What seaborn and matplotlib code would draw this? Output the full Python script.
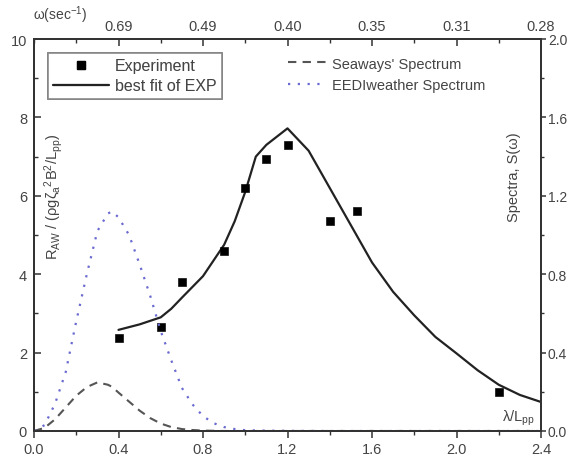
import numpy as np
import pandas as pd
import matplotlib
matplotlib.use("Agg")
import matplotlib.pyplot as plt
from matplotlib.ticker import MultipleLocator
from matplotlib.lines import Line2D
import seaborn as sns

# ---- data ----
exp_x = [0.4, 0.6, 0.7, 0.9, 1.0, 1.1, 1.2, 1.4, 1.53, 2.2]
exp_y = [2.38, 2.65, 3.8, 4.6, 6.2, 6.95, 7.3, 5.35, 5.6, 1.0]

fit_x = [0.4, 0.5, 0.6, 0.65, 0.7, 0.8, 0.9, 0.95, 1.0, 1.05, 1.1, 1.2, 1.3, 1.4, 1.5, 1.6, 1.7, 1.8, 1.9, 2.0, 2.1, 2.2, 2.3, 2.4]
fit_y = [2.58, 2.72, 2.9, 3.12, 3.4, 3.95, 4.75, 5.35, 6.1, 7.0, 7.3, 7.72, 7.15, 6.2, 5.25, 4.3, 3.55, 2.95, 2.4, 1.98, 1.55, 1.18, 0.92, 0.74]

spec_x = [0.0, 0.05, 0.1, 0.15, 0.2, 0.25, 0.3, 0.35, 0.37, 0.4, 0.45, 0.5, 0.55, 0.6, 0.65, 0.7, 0.75, 0.8, 0.85, 0.9, 0.95, 1.0,
          1.1, 1.2, 1.4, 1.6, 1.8, 2.0, 2.2, 2.4]
seaways_s = [0.0, 0.016, 0.06, 0.12, 0.18, 0.224, 0.248, 0.236, 0.225, 0.196, 0.15, 0.104, 0.066, 0.038, 0.02, 0.01, 0.005, 0.002, 0.001, 0.0, 0.0, 0.0,
             0.0, 0.0, 0.0, 0.0, 0.0, 0.0, 0.0, 0.0]
eedi_s = [0.0, 0.03, 0.14, 0.30, 0.56, 0.80, 1.02, 1.11, 1.12, 1.09, 1.00, 0.85, 0.69, 0.51, 0.36, 0.22, 0.136, 0.076, 0.04, 0.02, 0.01, 0.004,
          0.002, 0.001, 0.0, 0.0, 0.0, 0.0, 0.0, 0.0]

bottom_ticks = [0.0, 0.4, 0.8, 1.2, 1.6, 2.0, 2.4]
bottom_labels = ["0.0", "0.4", "0.8", "1.2", "1.6", "2.0", "2.4"]
top_ticks = [0.4, 0.8, 1.2, 1.6, 2.0, 2.4]
top_labels = ["0.69", "0.49", "0.40", "0.35", "0.31", "0.28"]
left_ticks = [0, 2, 4, 6, 8, 10]
right_ticks = [0.0, 0.4, 0.8, 1.2, 1.6, 2.0]
right_labels = ["0.0", "0.4", "0.8", "1.2", "1.6", "2.0"]

# ---- style ----
sns.set_theme(style="ticks")
plt.rcParams['font.family'] = ['Liberation Sans', 'DejaVu Sans']
plt.rcParams['mathtext.fontset'] = 'custom'
plt.rcParams['mathtext.rm'] = 'Liberation Sans'
plt.rcParams['mathtext.it'] = 'Liberation Sans'
plt.rcParams['mathtext.bf'] = 'Liberation Sans:bold'

FC = "#333333"
TC = "#444444"

fig = plt.figure(figsize=(5.68, 4.6), dpi=100)
ax = fig.add_axes([34/568, 1-432/460, (541-34)/568, (432-40)/460])
ax2 = ax.twinx()
ax3 = ax.twiny()

df_exp = pd.DataFrame({"x": exp_x, "y": exp_y})
df_fit = pd.DataFrame({"x": fit_x, "y": fit_y})
df_spec = pd.DataFrame({"x": spec_x, "sea": seaways_s, "eedi": eedi_s})

sns.lineplot(data=df_fit, x="x", y="y", ax=ax, color="#222222", lw=1.6, sort=False)
sns.scatterplot(data=df_exp, x="x", y="y", ax=ax, marker="s", s=30, color="black", edgecolor="black", zorder=5)
sns.lineplot(data=df_spec, x="x", y="sea", ax=ax2, color="#555555", lw=1.5, linestyle=(0, (4, 3)), sort=False)
sns.lineplot(data=df_spec, x="x", y="eedi", ax=ax2, color="#6a6ad0", lw=1.6, linestyle=(0, (1, 3.4)), sort=False)

ax.set_xlim(0, 2.4)
ax.set_ylim(0, 10)
ax2.set_ylim(0, 2.0)
ax3.set_xlim(0, 2.4)

for a in (ax, ax2, ax3):
    for sp in a.spines.values():
        sp.set_color(FC)
        sp.set_linewidth(1.3)

ax.set_xticks(bottom_ticks)
ax.set_xticklabels(bottom_labels)
ax.xaxis.set_minor_locator(MultipleLocator(0.2))
ax.set_yticks(left_ticks)
ax.yaxis.set_minor_locator(MultipleLocator(1))
ax.tick_params(axis="x", which="major", direction="out", length=5, width=1.1, color=FC, labelsize=10.5, labelcolor=TC, pad=3)
ax.tick_params(axis="x", which="minor", direction="out", length=3, width=1.0, color=FC)
ax.tick_params(axis="y", which="major", direction="in", length=5, width=1.1, color=FC, labelsize=10.5, labelcolor=TC, pad=5)
ax.tick_params(axis="y", which="minor", direction="in", length=3, width=1.0, color=FC)

ax2.set_yticks(right_ticks)
ax2.set_yticklabels(right_labels)
ax2.yaxis.set_minor_locator(MultipleLocator(0.2))
ax2.tick_params(axis="y", which="major", direction="out", length=3.5, width=1.1, color=FC, labelsize=10, labelcolor=TC, pad=1.5)
ax2.tick_params(axis="y", which="minor", direction="out", length=2.5, width=1.0, color=FC)

ax3.set_xticks(top_ticks)
ax3.set_xticklabels(top_labels)
ax3.xaxis.set_minor_locator(MultipleLocator(0.2))
ax3.tick_params(axis="x", which="major", direction="in", length=5, width=1.1, color=FC, labelsize=10.5, labelcolor=TC, pad=4)
ax3.tick_params(axis="x", which="minor", direction="in", length=3, width=1.0, color=FC)

ax.set_xlabel("")
ax.set_ylabel("")
ax2.set_ylabel("")
ax3.set_xlabel("")

fig.text(33/568, 1-15/460, r"ω(sec$^{-1}$)", ha="left", va="center", fontsize=10, color=TC)
ax.text(0.038, 0.60, r"R$_{AW}$ / (ρgζ$_a$$^2$B$^2$/L$_{pp}$)", transform=ax.transAxes,
        rotation=90, ha="center", va="center", fontsize=10.5, color=TC)
ax.text(0.947, 0.65, "Spectra, S(ω)", transform=ax.transAxes,
        rotation=90, ha="center", va="center", fontsize=10.5, color=TC)
ax.text(0.988, 0.036, r"λ/L$_{pp}$", transform=ax.transAxes, ha="right", va="center", fontsize=10.5, color=TC)

h1 = [Line2D([], [], marker="s", color="black", ls="none", markersize=6),
      Line2D([], [], color="#222222", lw=1.6)]
leg1 = ax.legend(h1, ["Experiment", "best fit of EXP"], loc="upper left", bbox_to_anchor=(0.027, 0.965),
                 frameon=True, fancybox=False, edgecolor="#777777", fontsize=11.5, handlelength=3.5,
                 handletextpad=0.35, borderpad=0.35, labelspacing=0.3, borderaxespad=0)
leg1.get_frame().set_linewidth(1.2)
for t in leg1.get_texts():
    t.set_color(TC)
ax.add_artist(leg1)

h2 = [Line2D([], [], color="#555555", lw=1.5, linestyle=(0, (4, 3))),
      Line2D([], [], color="#6a6ad0", lw=1.6, linestyle=(0, (1, 3.4)))]
leg2 = ax3.legend(h2, ["Seaways' Spectrum", "EEDIweather Spectrum"], loc="upper left", bbox_to_anchor=(0.49, 0.97),
                  frameon=False, fontsize=10.5, handlelength=2.6, handletextpad=0.4, labelspacing=0.5, borderaxespad=0)
for t in leg2.get_texts():
    t.set_color(TC)

fig.savefig("out.png", dpi=100)
